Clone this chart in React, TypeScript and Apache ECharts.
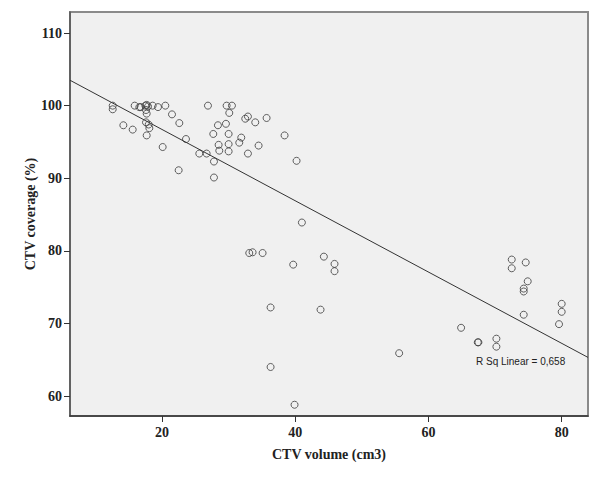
import React, { useEffect, useRef } from "react";
import * as echarts from "echarts";

const ctvVolume: number[] = [
  12.6, 12.6, 14.2, 15.6, 15.9, 16.6, 16.8, 17.5, 17.7, 17.9,
  17.6, 17.7, 17.6, 18.0, 18.1, 17.7, 18.6, 19.4, 20.5, 21.5,
  22.6, 20.1, 23.6, 22.5, 25.6, 26.7, 26.9, 27.7, 27.8, 27.8,
  28.4, 28.5, 28.6, 29.6, 29.7, 30.5, 30.1, 30.0, 30.0, 30.0,
  31.9, 31.6, 32.5, 32.9, 32.9, 34.0, 34.5, 35.7, 38.4, 40.2,
  41.0, 33.1, 33.6, 35.1, 39.7, 44.3, 45.9, 45.9, 36.3, 43.8,
  55.6, 36.3, 39.9, 64.9, 67.4, 67.5, 70.2, 70.2, 72.5, 72.5,
  74.6, 74.9, 74.3, 74.3, 74.3, 80.0, 80.0, 79.6,
];

const ctvCoverage: number[] = [
  100.0, 99.5, 97.3, 96.7, 100.0, 99.8, 99.8, 100.0, 100.1, 99.9,
  99.4, 98.9, 97.7, 97.4, 96.9, 95.9, 100.0, 99.8, 100.0, 98.8,
  97.6, 94.3, 95.4, 91.1, 93.4, 93.4, 100.0, 96.1, 92.3, 90.1,
  97.3, 94.6, 93.8, 97.5, 100.0, 100.0, 99.0, 96.1, 94.7, 93.7,
  95.6, 94.9, 98.2, 98.5, 93.4, 97.7, 94.5, 98.3, 95.9, 92.4,
  83.9, 79.7, 79.8, 79.7, 78.1, 79.2, 78.2, 77.2, 72.2, 71.9,
  65.9, 64.0, 58.8, 69.4, 67.4, 67.4, 67.9, 66.8, 78.8, 77.6,
  78.4, 75.8, 74.8, 74.4, 71.2, 72.7, 71.6, 69.9,
];

const xTicks: number[] = [20, 40, 60, 80];
const yTicks: number[] = [60, 70, 80, 90, 100, 110];
const xRange: number[] = [6.19, 83.95];
const yRange: number[] = [57.25, 112.9];
const fitIntercept = 106.54;
const fitSlope = -0.491;
const fitLabel = "R Sq Linear = 0,658";

export default function App() {
  const ref = useRef<HTMLDivElement>(null);
  useEffect(() => {
    if (!ref.current) return;
    const chart = echarts.init(ref.current, undefined, { renderer: "svg" });
    const points = ctvVolume.map((x, i) => [x, ctvCoverage[i]]);
    const fit = xRange.map((x) => [x, fitIntercept + fitSlope * x]);
    const serif = "'Liberation Serif', 'Times New Roman', serif";
    chart.setOption({
      animation: false,
      backgroundColor: "#ffffff",
      grid: {
        left: 70,
        top: 12,
        right: 12,
        bottom: 65,
        show: true,
        backgroundColor: "#f0f0f0",
        borderColor: "#8a8a8a",
        borderWidth: 2,
      },
      xAxis: {
        type: "value",
        min: xRange[0],
        max: xRange[1],
        name: "CTV volume (cm3)",
        nameLocation: "middle",
        nameGap: 31,
        nameTextStyle: { fontFamily: serif, fontWeight: "bold", fontSize: 14, color: "#222" },
        axisLine: { show: true, lineStyle: { color: "#333", width: 1.5 } },
        axisTick: { show: true, length: 6, customValues: xTicks, lineStyle: { color: "#333" } },
        axisLabel: {
          customValues: xTicks,
          margin: 9,
          fontFamily: serif,
          fontWeight: "bold",
          fontSize: 14,
          color: "#222",
        },
        splitLine: { show: false },
      },
      yAxis: {
        type: "value",
        min: yRange[0],
        max: yRange[1],
        name: "CTV coverage (%)",
        nameLocation: "middle",
        nameGap: 33,
        nameMoveOverlap: false,
        nameTextStyle: { fontFamily: serif, fontWeight: "bold", fontSize: 14, color: "#222" },
        axisLine: { show: true, lineStyle: { color: "#555", width: 1.5 } },
        axisTick: { show: true, length: 6, customValues: yTicks, lineStyle: { color: "#333" } },
        axisLabel: {
          customValues: yTicks,
          margin: 8,
          fontFamily: serif,
          fontWeight: "bold",
          fontSize: 14,
          color: "#222",
        },
        splitLine: { show: false },
      },
      series: [
        {
          type: "line",
          data: fit,
          symbol: "none",
          lineStyle: { color: "#333", width: 1 },
          silent: true,
          z: 2,
        },
        {
          type: "scatter",
          data: points,
          symbol: "circle",
          symbolSize: 7,
          itemStyle: { color: "rgba(0,0,0,0)", borderColor: "#3a3a3a", borderWidth: 1 },
          z: 3,
        },
      ],
      graphic: [
        {
          type: "text",
          left: 476,
          top: 356,
          style: {
            text: fitLabel,
            font: "10px 'Liberation Sans', Arial, sans-serif",
            fill: "#222",
          },
        },
      ],
    });
    return () => chart.dispose();
  }, []);
  return (
    <div
      ref={ref}
      style={{ position: "fixed", left: 0, top: 0, width: 600, height: 481, background: "#fff" }}
    />
  );
}
